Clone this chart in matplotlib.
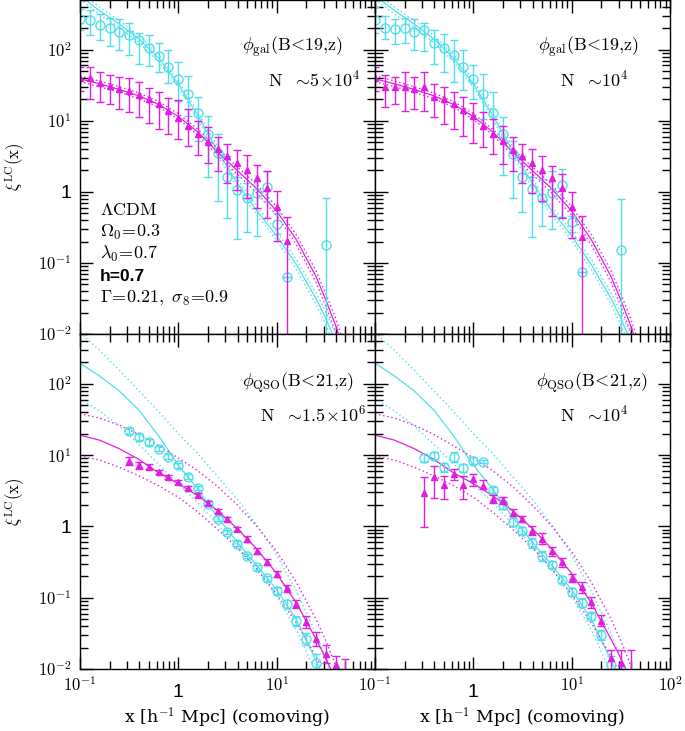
import numpy as np
import matplotlib
matplotlib.use("Agg")
import matplotlib.pyplot as plt
from matplotlib.ticker import FixedLocator, FixedFormatter, LogLocator, NullFormatter
from matplotlib.transforms import ScaledTranslation

plt.rcParams["mathtext.fontset"] = "cm"
plt.rcParams["font.family"] = ["DejaVu Serif"]

nan = np.nan

# separation bins, h^-1 Mpc
x = [0.1, 0.126, 0.158, 0.2, 0.251, 0.316, 0.398, 0.501, 0.631, 0.794,
     1.0, 1.26, 1.58, 2.0, 2.51, 3.16, 3.98, 5.01, 6.31, 7.94,
     10.0, 12.6, 15.8, 20.0, 25.1, 31.6, 39.8, 50.1]

# ---- galaxies, N ~ 5e4 (log10 xi, lower, upper) ----
gal1_cyan = [2.43, 2.42, 2.35, 2.31, 2.25, 2.21, 2.13, 2.02, 1.91, 1.76,
             1.59, 1.37, 1.11, 0.82, 0.54, 0.21, 0.03, -0.08, -0.02, 0.07,
             -0.45, -1.20, nan, nan, nan, -0.75, nan, nan]
gal1_cyan_lo = [2.27, 2.21, 2.13, 2.05, 1.99, 1.92, 1.80, 1.77, 1.68, 1.53,
                1.28, 1.07, 0.72, 0.21, -0.13, -0.37, -0.66, -0.56, -0.62, -0.13,
                -0.60, -1.20, nan, nan, nan, -2.5, nan, nan]
gal1_cyan_hi = [2.57, 2.56, 2.50, 2.45, 2.43, 2.38, 2.24, 2.20, 2.10, 1.99,
                1.83, 1.63, 1.33, 1.07, 0.81, 0.51, 0.21, 0.13, 0.15, 0.30,
                -0.30, -1.20, nan, nan, nan, -0.09, nan, nan]
gal1_mag = [1.60, 1.60, 1.53, 1.49, 1.44, 1.42, 1.36, 1.30, 1.23, 1.14,
            1.04, 0.92, 0.82, 0.70, 0.60, 0.50, 0.40, 0.31, 0.19, 0.05,
            -0.22, -0.69, nan, nan, nan, nan, nan, nan]
gal1_mag_lo = [1.42, 1.31, 1.27, 1.24, 1.16, 1.13, 1.05, 0.97, 0.89, 0.81,
               0.74, 0.64, 0.52, 0.41, 0.29, 0.13, 0.02, -0.08, -0.23, -0.37,
               -0.69, -2.5, nan, nan, nan, nan, nan, nan]
gal1_mag_hi = [1.75, 1.76, 1.69, 1.65, 1.61, 1.60, 1.54, 1.46, 1.40, 1.32,
               1.29, 1.16, 1.00, 0.91, 0.77, 0.67, 0.59, 0.52, 0.38, 0.30,
               0.01, -0.36, nan, nan, nan, nan, nan, nan]

# ---- galaxies, N ~ 1e4 ----
gal2_cyan = [2.42, 2.31, 2.29, 2.31, 2.25, 2.28, 2.10, 2.02, 1.92, 1.76,
             1.59, 1.38, 1.11, 0.82, 0.53, 0.21, 0.04, -0.08, -0.01, 0.10,
             -0.42, -1.13, nan, nan, nan, -0.82, nan, nan]
gal2_cyan_lo = [2.24, 2.15, 2.08, 2.10, 1.99, 1.98, 1.80, 1.68, 1.54, 1.43,
                1.31, 1.02, 0.77, 0.23, -0.08, -0.29, -0.64, -0.48, -0.52, -0.35,
                -0.57, -1.13, nan, nan, nan, -2.5, nan, nan]
gal2_cyan_hi = [2.60, 2.48, 2.43, 2.45, 2.43, 2.38, 2.28, 2.22, 2.13, 1.99,
                1.78, 1.66, 1.40, 1.05, 0.72, 0.51, 0.21, 0.18, 0.30, 0.32,
                -0.34, -1.13, nan, nan, nan, -0.10, nan, nan]
gal2_mag = [1.60, 1.47, 1.47, 1.48, 1.45, 1.48, 1.33, 1.30, 1.24, 1.15,
            1.06, 0.93, 0.82, 0.71, 0.59, 0.50, 0.40, 0.31, 0.19, 0.05,
            -0.21, -0.63, nan, nan, nan, nan, nan, nan]
gal2_mag_lo = [1.42, 1.20, 1.24, 1.14, 1.16, 1.14, 1.05, 0.95, 0.88, 0.79,
               0.69, 0.63, 0.53, 0.39, 0.29, 0.13, -0.01, -0.13, -0.34, -0.37,
               -0.65, -2.5, nan, nan, nan, nan, nan, nan]
gal2_mag_hi = [1.75, 1.65, 1.61, 1.69, 1.61, 1.69, 1.52, 1.48, 1.41, 1.33,
               1.25, 1.12, 1.02, 0.93, 0.77, 0.67, 0.60, 0.51, 0.37, 0.25,
               0.00, -0.34, nan, nan, nan, nan, nan, nan]

# ---- QSOs, N ~ 1.5e6 (log10 xi, dex down, dex up) ----
qso1_cyan = [nan, nan, nan, nan, nan, 1.34, 1.25, 1.18, 1.09, 0.98,
             0.86, 0.70, 0.535, 0.32, 0.11, -0.075, -0.24, -0.41, -0.57, -0.73,
             -0.90, -1.09, -1.32, -1.58, -1.91, nan, nan, nan]
qso1_cyan_dn = [nan, nan, nan, nan, nan, 0.04, 0.04, 0.04, 0.035, 0.035,
                0.035, 0.03, 0.03, 0.03, 0.03, 0.03, 0.03, 0.03, 0.035, 0.04,
                0.05, 0.06, 0.07, 0.09, 0.12, nan, nan, nan]
qso1_cyan_up = qso1_cyan_dn
qso1_mag = [nan, nan, nan, nan, nan, 0.92, 0.86, 0.84, 0.76, 0.69,
            0.62, 0.535, 0.44, 0.33, 0.215, 0.10, -0.04, -0.18, -0.34, -0.50,
            -0.67, -0.87, -1.09, -1.34, -1.58, -1.79, -1.94, -2.15]
qso1_mag_dn = [nan, nan, nan, nan, nan, 0.06, 0.05, 0.03, 0.03, 0.03,
               0.03, 0.03, 0.03, 0.03, 0.03, 0.03, 0.03, 0.04, 0.04, 0.04,
               0.04, 0.05, 0.06, 0.08, 0.10, 0.12, 0.12, 0.30]
qso1_mag_up = [nan, nan, nan, nan, nan, 0.06, 0.05, 0.03, 0.03, 0.03,
               0.03, 0.03, 0.03, 0.03, 0.03, 0.03, 0.03, 0.04, 0.04, 0.04,
               0.04, 0.05, 0.06, 0.08, 0.10, 0.12, 0.12, 0.29]

# ---- QSOs, N ~ 1e4 ----
qso2_cyan = [nan, nan, nan, nan, nan, 0.96, 0.99, 0.83, 0.97, 0.82,
             0.92, 0.91, 0.51, 0.30, 0.065, -0.06, -0.23, -0.42, -0.535, -0.75,
             -0.92, -1.07, -1.26, -1.52, -1.94, -2.05, nan, nan]
qso2_cyan_dn = [nan, nan, nan, nan, nan, 0.06, 0.05, 0.06, 0.07, 0.06,
                0.05, 0.02, 0.04, 0.06, 0.06, 0.05, 0.07, 0.07, 0.05, 0.05,
                0.05, 0.06, 0.05, 0.07, 0.12, 0.10, nan, nan]
qso2_cyan_up = qso2_cyan_dn
qso2_mag = [nan, nan, nan, nan, nan, 0.475, 0.69, 0.58, 0.74, 0.58,
            0.66, 0.57, 0.39, 0.37, 0.19, 0.11, -0.06, -0.17, -0.35, -0.50,
            -0.73, -0.855, -1.06, -1.32, -1.85, -1.92, -2.05, nan]
qso2_mag_dn = [nan, nan, nan, nan, nan, 0.485, 0.29, 0.19, 0.09, 0.19,
               0.09, 0.05, 0.06, 0.05, 0.045, 0.045, 0.06, 0.08, 0.06, 0.07,
               0.05, 0.085, 0.09, 0.08, 0.35, 0.30, 0.40, nan]
qso2_mag_up = [nan, nan, nan, nan, nan, 0.215, 0.16, 0.13, 0.06, 0.13,
               0.07, 0.08, 0.05, 0.04, 0.05, 0.03, 0.06, 0.08, 0.06, 0.06,
               0.06, 0.075, 0.07, 0.08, 0.12, 0.18, 0.31, nan]

# ---- model curves (log10 xi) ----
xm = [0.1, 0.158, 0.251, 0.398, 0.631, 1.0, 1.58, 2.51, 3.98, 6.31,
      10.0, 15.8, 25.1, 31.6, 39.8, 50.1]
gal_cyan_mid = [2.76, 2.55, 2.36, 2.15, 1.88, 1.52, 1.07, 0.58, 0.12, -0.27,
                -0.62, -1.02, -1.50, -1.78, -2.10, -2.45]
gal_cyan_hi = [2.81, 2.60, 2.41, 2.20, 1.93, 1.57, 1.12, 0.64, 0.18, -0.21,
               -0.56, -0.95, -1.42, -1.69, -2.00, -2.35]
gal_cyan_lo = [2.71, 2.50, 2.31, 2.10, 1.83, 1.47, 1.02, 0.52, 0.06, -0.33,
               -0.68, -1.09, -1.58, -1.87, -2.20, -2.55]
gal_mag_mid = [1.59, 1.52, 1.44, 1.35, 1.23, 1.06, 0.84, 0.56, 0.30, 0.04,
               -0.27, -0.67, -1.19, -1.52, -1.88, -2.30]
gal_mag_hi = [1.63, 1.56, 1.48, 1.39, 1.27, 1.10, 0.88, 0.61, 0.35, 0.10,
              -0.21, -0.60, -1.11, -1.43, -1.78, -2.20]
gal_mag_lo = [1.55, 1.48, 1.40, 1.31, 1.19, 1.02, 0.80, 0.51, 0.25, -0.02,
              -0.33, -0.74, -1.27, -1.61, -1.98, -2.40]
qso_cyan_mid = [2.29, 2.11, 1.90, 1.63, 1.27, 0.86, 0.52, 0.13, -0.22, -0.55,
                -0.89, -1.30, -1.88, -2.20, -2.60, -3.00]
qso_cyan_hi = [2.72, 2.47, 2.19, 1.90, 1.61, 1.30, 1.02, 0.70, 0.38, 0.02,
               -0.40, -0.90, -1.50, -1.85, -2.25, -2.70]
qso_cyan_lo = [1.79, 1.62, 1.41, 1.15, 0.87, 0.60, 0.33, 0.03, -0.27, -0.60,
               -0.98, -1.45, -2.05, -2.40, -2.80, -3.20]
qso_mag_mid = [1.28, 1.21, 1.09, 0.94, 0.75, 0.60, 0.43, 0.22, -0.03, -0.32,
               -0.66, -1.07, -1.58, -1.85, -2.15, -2.50]
qso_mag_hi = [1.58, 1.52, 1.42, 1.29, 1.13, 0.96, 0.78, 0.56, 0.30, 0.00,
              -0.35, -0.78, -1.30, -1.60, -1.95, -2.35]
qso_mag_lo = [0.99, 0.93, 0.83, 0.71, 0.57, 0.41, 0.20, -0.04, -0.30, -0.60,
              -0.95, -1.35, -1.82, -2.10, -2.40, -2.80]

CYAN = "#4fdfea"
MAG = "#e21de2"


def models(ax, mid, hi, lo, color):
    ax.plot(xm, 10 ** np.array(mid), color=color, lw=0.9)
    for band in (hi, lo):
        ax.plot(xm, 10 ** np.array(band), color=color, lw=1.0, ls=(0, (1, 2)))


def points(ax, c, lo, hi, color, marker, ms, filled):
    c = np.array(c)
    ok = ~np.isnan(c)
    xx = np.array(x)[ok]
    y = 10 ** c[ok]
    ylo = 10 ** np.array(lo)[ok]
    yhi = 10 ** np.array(hi)[ok]
    ax.errorbar(xx, y, yerr=[y - ylo, yhi - y], fmt="none", ecolor=color,
                elinewidth=1.0, capsize=3.2, capthick=1.0)
    ax.plot(xx, y, ls="none", marker=marker, ms=ms, mec=color, mew=1.0,
            mfc=color if filled else "none")


fig = plt.figure(figsize=(6.85, 7.31), dpi=100)
W, H = 295 / 685, 334 / 731
ax_g1 = fig.add_axes([80 / 685, 1 - 334 / 731, W, H])
ax_g2 = fig.add_axes([375 / 685, 1 - 334 / 731, W, H])
ax_q1 = fig.add_axes([80 / 685, 1 - 669 / 731, W, 335 / 731])
ax_q2 = fig.add_axes([375 / 685, 1 - 669 / 731, W, 335 / 731])

for ax in (ax_g1, ax_g2):
    models(ax, gal_cyan_mid, gal_cyan_hi, gal_cyan_lo, CYAN)
    models(ax, gal_mag_mid, gal_mag_hi, gal_mag_lo, MAG)
for ax in (ax_q1, ax_q2):
    models(ax, qso_cyan_mid, qso_cyan_hi, qso_cyan_lo, CYAN)
    models(ax, qso_mag_mid, qso_mag_hi, qso_mag_lo, MAG)

points(ax_g1, gal1_cyan, gal1_cyan_lo, gal1_cyan_hi, CYAN, "o", 6.5, False)
points(ax_g1, gal1_mag, gal1_mag_lo, gal1_mag_hi, MAG, "^", 4.2, True)
points(ax_g2, gal2_cyan, gal2_cyan_lo, gal2_cyan_hi, CYAN, "o", 6.5, False)
points(ax_g2, gal2_mag, gal2_mag_lo, gal2_mag_hi, MAG, "^", 4.2, True)

for ax, c, dn, up, col, mk, ms, fill in [
        (ax_q1, qso1_cyan, qso1_cyan_dn, qso1_cyan_up, CYAN, "o", 6.5, False),
        (ax_q1, qso1_mag, qso1_mag_dn, qso1_mag_up, MAG, "^", 4.2, True),
        (ax_q2, qso2_cyan, qso2_cyan_dn, qso2_cyan_up, CYAN, "o", 6.5, False),
        (ax_q2, qso2_mag, qso2_mag_dn, qso2_mag_up, MAG, "^", 4.2, True)]:
    c = np.array(c)
    points(ax, c, c - np.array(dn), c + np.array(up), col, mk, ms, fill)

xlabels_full = ["$10^{-1}$", "1", "$10^{1}$", "$10^{2}$"]
ylabels = ["$10^{-2}$", "$10^{-1}$", "1", "$10^{1}$", "$10^{2}$"]
for ax in (ax_g1, ax_g2, ax_q1, ax_q2):
    ax.set_xscale("log")
    ax.set_yscale("log")
    ax.set_xlim(0.1, 100)
    ax.set_ylim(0.01, 500)
    ax.xaxis.set_major_locator(FixedLocator([0.1, 1, 10, 100]))
    ax.yaxis.set_major_locator(FixedLocator([0.01, 0.1, 1, 10, 100]))
    ax.xaxis.set_minor_locator(LogLocator(base=10, subs=np.arange(2, 10), numticks=20))
    ax.yaxis.set_minor_locator(LogLocator(base=10, subs=np.arange(2, 10), numticks=20))
    ax.xaxis.set_minor_formatter(NullFormatter())
    ax.yaxis.set_minor_formatter(NullFormatter())
    ax.tick_params(which="both", direction="in", top=True, right=True,
                   width=1.0, labelsize=12)
    ax.tick_params(which="major", length=9)
    ax.tick_params(which="minor", length=5.5)
    ax.tick_params(axis="y", pad=6)
    ax.tick_params(axis="x", pad=5)
    for s in ax.spines.values():
        s.set_linewidth(1.0)

for ax in (ax_g1, ax_g2):
    ax.xaxis.set_major_formatter(NullFormatter())
for ax in (ax_g2, ax_q2):
    ax.yaxis.set_major_formatter(NullFormatter())
for ax in (ax_g1, ax_q1):
    ax.yaxis.set_major_formatter(FixedFormatter(ylabels))
    ax.yaxis.get_major_ticks()[2].label1.set_fontfamily("Liberation Sans")
    ax.yaxis.get_major_ticks()[2].label1.set_fontsize(14)
    ax.text(-0.22, 0.5, r"$\xi^{\rm LC}(\mathrm{x})$", transform=ax.transAxes,
            rotation=90, ha="center", va="center", fontsize=12)
ax_q1.xaxis.set_major_formatter(FixedFormatter(xlabels_full[:3] + [""]))
ax_q2.xaxis.set_major_formatter(FixedFormatter(xlabels_full))
for ax in (ax_q1, ax_q2):
    t = ax.xaxis.get_major_ticks()[1].label1
    t.set_fontfamily("Liberation Sans")
    t.set_fontsize(14)
    t.set_transform(t.get_transform() + ScaledTranslation(0, -6 / 72, fig.dpi_scale_trans))
    ax.text(0.5, -0.146, r"x [h$^{-1}$ Mpc] (comoving)", transform=ax.transAxes,
            ha="center", va="center", fontsize=12.5)

# panel annotations
ax_g1.text(0.72, 0.86, r"$\phi_{\rm gal}(\rm B\!<\!19{,}z)$", transform=ax_g1.transAxes,
           ha="center", va="center", fontsize=13)
ax_g1.text(0.795, 0.76, r"$\rm N\ \ \sim\!5\!\times\!10^{4}$", transform=ax_g1.transAxes,
           ha="center", va="center", fontsize=13)
ax_g2.text(0.725, 0.86, r"$\phi_{\rm gal}(\rm B\!<\!19{,}z)$", transform=ax_g2.transAxes,
           ha="center", va="center", fontsize=13)
ax_g2.text(0.745, 0.76, r"$\rm N\ \ \sim\!10^{4}$", transform=ax_g2.transAxes,
           ha="center", va="center", fontsize=13)
ax_q1.text(0.74, 0.854, r"$\phi_{\rm QSO}(\rm B\!<\!21{,}z)$", transform=ax_q1.transAxes,
           ha="center", va="center", fontsize=13)
ax_q1.text(0.79, 0.758, r"$\rm N\ \ \sim\!1.5\!\times\!10^{6}$", transform=ax_q1.transAxes,
           ha="center", va="center", fontsize=13)
ax_q2.text(0.736, 0.854, r"$\phi_{\rm QSO}(\rm B\!<\!21{,}z)$", transform=ax_q2.transAxes,
           ha="center", va="center", fontsize=13)
ax_q2.text(0.745, 0.758, r"$\rm N\ \ \sim\!10^{4}$", transform=ax_q2.transAxes,
           ha="center", va="center", fontsize=13)

params = [r"$\Lambda\rm CDM$", r"$\Omega_0\!=\!0.3$", r"$\lambda_0\!=\!0.7$", None,
          r"$\Gamma\!=\!0.21,\ \sigma_8\!=\!0.9$"]
for i, s in enumerate(params):
    yy = 0.371 - 0.066 * i
    if s is None:
        ax_g1.text(0.068, yy, "h=0.7", transform=ax_g1.transAxes, ha="left",
                   va="center", fontsize=12.5, fontweight="bold",
                   fontfamily="Liberation Sans")
    else:
        ax_g1.text(0.068, yy, s, transform=ax_g1.transAxes, ha="left",
                   va="center", fontsize=13)

fig.savefig("out.png", dpi=100)
plt.close(fig)
